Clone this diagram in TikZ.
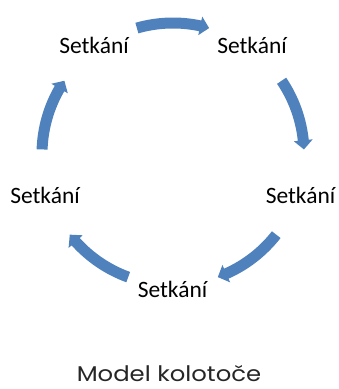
\documentclass[tikz,border=0pt]{standalone}
\usepackage{fontspec}
\setmainfont{Carlito}
\newfontfamily\capfont[FakeStretch=1.14]{Poppins}
\definecolor{arrblue}{HTML}{4F81BD}
\begin{document}
\begin{tikzpicture}[x=0.75pt,y=-0.75pt,
  lbl/.style={font=\fontsize{17.6}{20}\selectfont, anchor=base, inner sep=0pt},
  capt/.style={font=\capfont\fontsize{16}{19}\selectfont, anchor=base, inner sep=0pt, text=black!85},
  blockarrow/.style={fill=arrblue}]
\useasboundingbox (0,0) rectangle (339,389);
\coordinate (c) at (173,154);
% nodes
\node[lbl] (n1) at (94,53) {Setkání};
\node[lbl] (n2) at (252,53) {Setkání};
\node[lbl] (n3) at (300.5,203) {Setkání};
\node[lbl] (n4) at (172.5,297) {Setkání};
\node[lbl] (n5) at (45,203) {Setkání};
\node[capt] (cap) at (169,381) {Model kolotoče};
% block arc arrows
\foreach \m in {-90,-18,54,126,198}{
  \pgfmathsetmacro{\s}{\m-16}
  \pgfmathsetmacro{\e}{\m+16}
  \pgfmathsetmacro{\h}{\e-4}
  \fill[blockarrow,shift={(c)}]
    (\s:136.5) arc[start angle=\s, end angle=\h, radius=136.5]
    -- (\h:140.5) -- (\e:131) -- (\h:121.5) -- (\h:125.5)
    arc[start angle=\h, end angle=\s, radius=125.5] -- cycle;
}
\end{tikzpicture}
\end{document}
